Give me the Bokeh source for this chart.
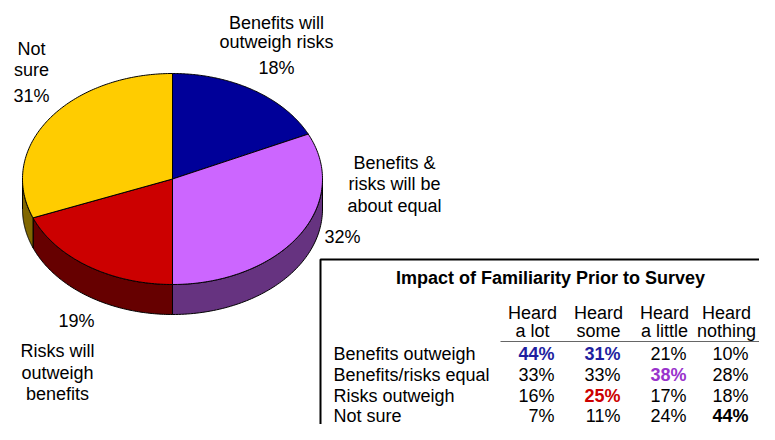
import numpy as np
from bokeh.plotting import figure
from bokeh.models import Range1d, ColumnDataSource
from bokeh.embed import file_html
from bokeh.resources import INLINE
from bokeh.core.properties import value

# ---------------- data ----------------
categories = ["Benefits will outweigh risks", "Benefits & risks will be about equal",
              "Risks will outweigh benefits", "Not sure"]
shares = [18, 32, 19, 31]
top_colors = ["#000099", "#CC66FF", "#CC0000", "#FFCC00"]
side_colors = ["#00004C", "#663380", "#660000", "#806600"]

table_title = "Impact of Familiarity Prior to Survey"
row_labels = ["Benefits outweigh", "Benefits/risks equal", "Risks outweigh", "Not sure"]
col_line1 = ["Heard", "Heard", "Heard", "Heard"]
col_line2 = ["a lot", "some", "a little", "nothing"]
heard_a_lot = [44, 33, 16, 7]
heard_some = [31, 33, 25, 11]
heard_a_little = [21, 38, 17, 24]
heard_nothing = [10, 28, 18, 44]
# highlighted cells: (row, col) -> colour
highlights = {(0, 0): "#1F1F9F", (0, 1): "#1F1F9F", (1, 2): "#9933CC",
              (2, 1): "#CC0000", (3, 3): "#000000"}

FONT = "Liberation Sans"

# ---------------- figure ----------------
W, H = 759, 424
p = figure(width=W, height=H, output_backend="svg", toolbar_location=None,
           x_range=Range1d(0, W), y_range=Range1d(H, 0), min_border=0)
p.axis.visible = False
p.grid.visible = False
p.outline_line_color = None
p.background_fill_color = "white"

# ---------------- 3D pie ----------------
cx, cy, rx, ry, depth = 172, 178.5, 150, 105.5, 30
fr = np.array(shares, dtype=float) / sum(shares)
ends = np.cumsum(fr) * 360.0
starts = np.concatenate([[0.0], ends[:-1]])

def pt(t):
    r = np.radians(t)
    return cx + rx * np.sin(r), cy - ry * np.cos(r)

side_xs, side_ys, side_cols = [], [], []
for a, b, c in zip(starts, ends, side_colors):
    lo, hi = max(a, 90.0), min(b, 270.0)
    if hi <= lo:
        continue
    ts = np.linspace(lo, hi, 80)
    x, y = pt(ts)
    side_xs.append(list(x) + list(x[::-1]))
    side_ys.append(list(y) + list((y + depth)[::-1]))
    side_cols.append(c)
p.patches(side_xs, side_ys, fill_color=side_cols, line_color="#000000", line_width=1)

top_xs, top_ys = [], []
for a, b in zip(starts, ends):
    ts = np.linspace(a, b, 120)
    x, y = pt(ts)
    top_xs.append([cx] + list(x))
    top_ys.append([cy] + list(y))
p.patches(top_xs, top_ys, fill_color=top_colors, line_color="#000000", line_width=1)

# ---------------- pie labels ----------------
pct = [f"{s}%" for s in shares]
lab_lines = [
    (["Benefits will", "outweigh risks", pct[0]], 276, [22, 41, 67]),
    (["Benefits &", "risks will be", "about equal"], 394, [162, 183, 205]),
    (["Not", "sure", pct[3]], 31, [48, 69, 95]),
    ([pct[2], "Risks will", "outweigh", "benefits"], 57, [320, 350, 372, 393]),
]
lx, ly, lt = [], [], []
for lines, x0, ys in lab_lines:
    for t, y0 in zip(lines, ys):
        lx.append(x0); ly.append(y0); lt.append(t)
lx[lt.index(pct[2])] = 76
lx.append(342); ly.append(236); lt.append(pct[1])
p.text(lx, ly, text=lt, text_align="center", text_baseline="middle",
       text_font=value(FONT), text_font_size="18px", text_color="#000000")

# ---------------- table ----------------
p.quad(left=[320], right=[900], top=[259], bottom=[600], fill_color=None,
       line_color="#000000", line_width=2)
p.text([550], [277], text=[table_title], text_align="center", text_baseline="middle",
       text_font=value(FONT), text_font_size="18px", text_font_style="bold",
       text_color="#000000")

col_center = [532, 598, 664, 726]
col_right = [554, 620, 686, 748]
p.text(col_center, [312] * 4, text=col_line1, text_align="center", text_baseline="middle",
       text_font=value(FONT), text_font_size="18px", text_color="#000000")
p.text(col_center, [330] * 4, text=col_line2, text_align="center", text_baseline="middle",
       text_font=value(FONT), text_font_size="18px", text_color="#000000")
p.line([500, 800], [341, 341], line_color="#666666", line_width=1)

row_y = [353, 374, 395, 415]
p.text([333] * 4, row_y, text=row_labels, text_align="left", text_baseline="middle",
       text_font=value(FONT), text_font_size="18px", text_color="#000000")

cols = [heard_a_lot, heard_some, heard_a_little, heard_nothing]
vx, vy, vt, vc, vs = [], [], [], [], []
for j, colvals in enumerate(cols):
    for i, v in enumerate(colvals):
        vx.append(col_right[j]); vy.append(row_y[i]); vt.append(f"{v}%")
        if (i, j) in highlights:
            vc.append(highlights[(i, j)]); vs.append("bold")
        else:
            vc.append("#000000"); vs.append("normal")
src = ColumnDataSource(dict(x=vx, y=vy, t=vt, c=vc, s=vs))
p.text("x", "y", text="t", source=src, text_align="right", text_baseline="middle",
       text_font=value(FONT), text_font_size="18px", text_color="c", text_font_style="s")

open("out.html", "w").write(file_html(p, INLINE))
